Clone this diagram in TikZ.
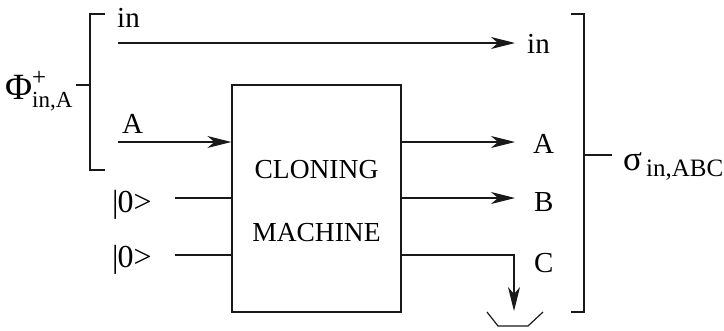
\documentclass[tikz,border=0pt]{standalone}
\usepackage{fontspec}
\setmainfont{Liberation Serif}
\usetikzlibrary{arrows.meta}
\begin{document}
\begin{tikzpicture}[x=1pt,y=-1pt,
  wire/.style={line width=1.2pt, draw=black!90},
  sig/.style={wire, -{Stealth[length=24pt,width=12pt,inset=7pt]}},
  lbl/.style={inner sep=0pt, anchor=base west, font=\fontsize{29}{32}\selectfont},
  boxlbl/.style={inner sep=0pt, anchor=base, font=\fontsize{27.5}{30}\selectfont},
  ]
\useasboundingbox (0,0) rectangle (724,330);

% the cloning machine
\node[wire, draw, minimum width=169pt, minimum height=227pt, inner sep=0pt] (box) at (316.5,198.5) {};
\node[boxlbl] (clon) at (316.5,178) {CLONING};
\node[boxlbl] (mach) at (316.5,241) {MACHINE};

% wire ends
\coordinate (inS) at (118,43);
\coordinate (inE) at (515,43);
\coordinate (aS) at (118,142);
\coordinate (aE) at (515,142);
\coordinate (z1) at (175,198);
\coordinate (z2) at (175,255);
\coordinate (bE) at (515,198);
\coordinate (cT) at (514,255);
\coordinate (cE) at (514,311);

% wires
\draw[sig] (inS) -- (inE);
\draw[sig] (aS) -- (aS -| box.west);
\draw[wire] (z1) -- (z1 -| box.west);
\draw[wire] (z2) -- (z2 -| box.west);
\draw[sig] (box.east |- aE) -- (aE);
\draw[sig] (box.east |- bE) -- (bE);
\draw[sig] (box.east |- cT) -- (cT) -- (cE);

% discarded output
\draw[wire] (487,312) -- (498,326) -- (528,326) -- (543,312);

% input labels
\node[lbl] (lin) at (117,27) {in};
\node[lbl] (lA) at (122,133) {A};
\node[lbl, font=\fontsize{32}{34}\selectfont] (lz1) at (112,212) {|\kern-1pt0>};
\node[lbl, font=\fontsize{32}{34}\selectfont] (lz2) at (112,267) {|\kern-1pt0>};

% output labels
\node[lbl] (rin) at (527,53) {in};
\node[lbl] (rA) at (533,153) {A};
\node[lbl] (rB) at (534,211) {B};
\node[lbl] (rC) at (534,272) {C};

% input bracket
\draw[wire] (105,14) -- (90,14) -- (90,170) -- (105,170);
\draw[wire] (76,85) -- (90,85);
\node[lbl, font=\fontsize{37}{40}\selectfont] (phi) at (5,99) {Φ\rlap{\raisebox{14pt}{\fontsize{25}{25}\selectfont +}}\raisebox{-8pt}{\fontsize{23}{23}\selectfont in,A}};

% output bracket
\draw[wire] (571,14) -- (584,14) -- (584,312) -- (571,312);
\draw[wire] (584,155) -- (612,155);
\node[lbl, font=\fontsize{35}{38}\selectfont] (sig) at (623,170) {σ\raisebox{-6pt}{\fontsize{25}{25}\selectfont\,in,ABC}};
\end{tikzpicture}
\end{document}
